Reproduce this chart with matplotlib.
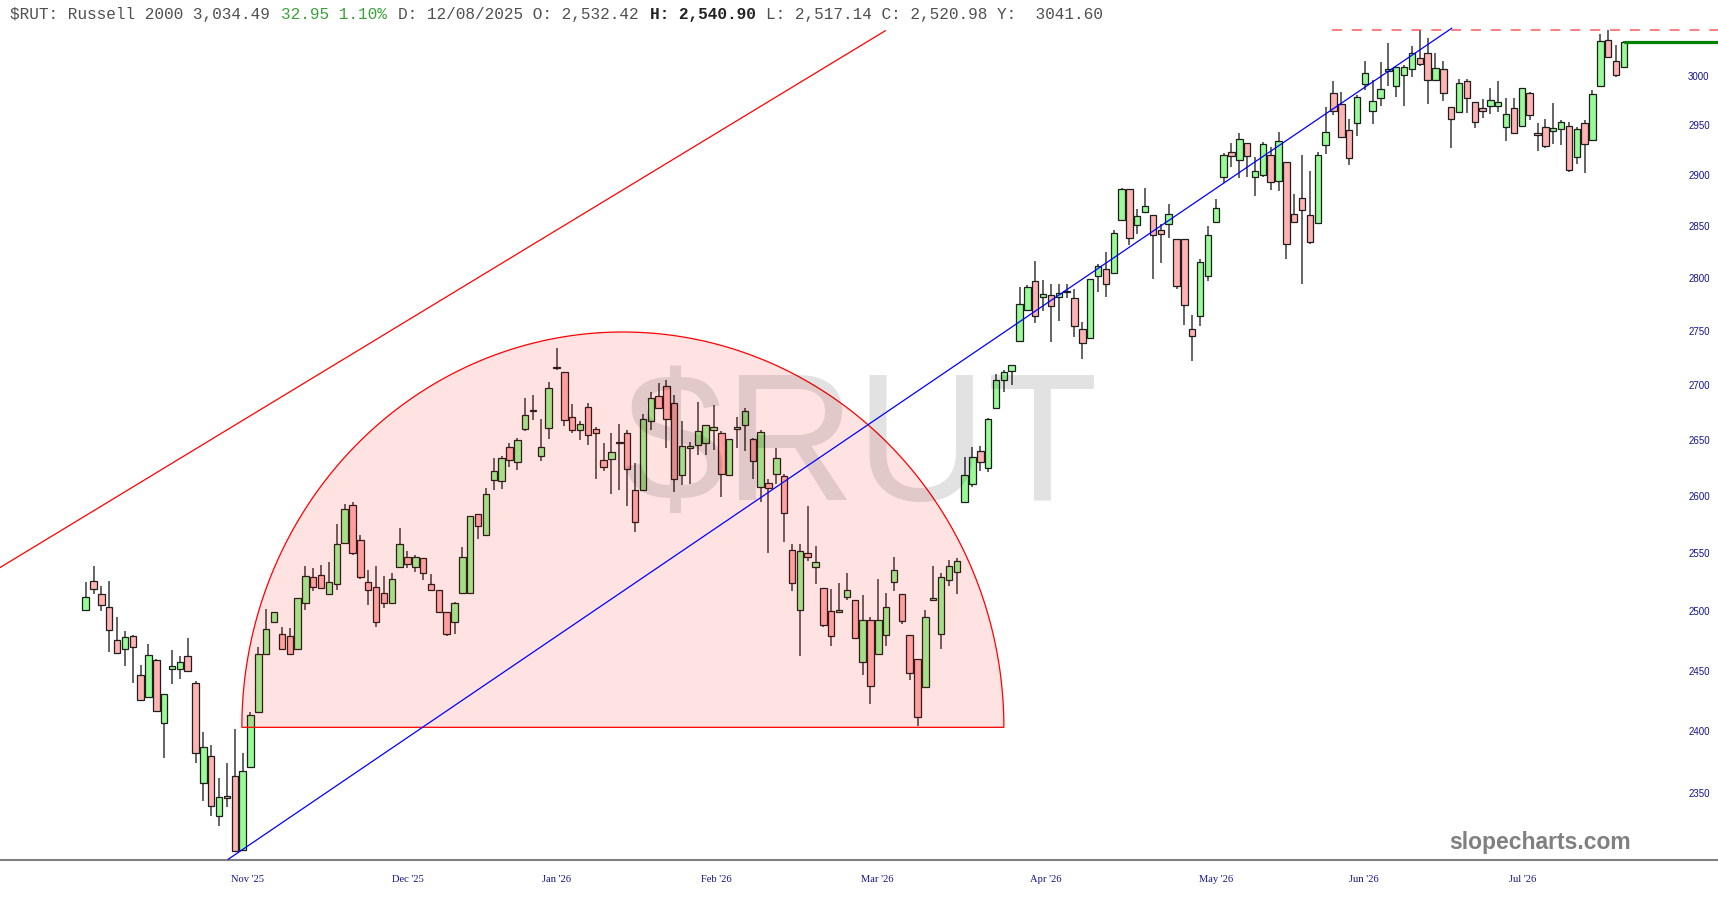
import numpy as np
import matplotlib
matplotlib.use("Agg")
import matplotlib.pyplot as plt
from matplotlib.patches import Polygon
from matplotlib.ticker import NullLocator, FixedLocator, FixedFormatter

# daily candles (index 0 = first candle on the left)
opens = [2501, 2526, 2515, 2504, 2476, 2468, 2479, 2446, 2428, 2459,
         2407, 2451, 2451, 2462, 2440, 2358, 2380, 2332, 2348, 2364,
         2305, 2371, 2416, 2464, 2491, 2481, 2479, 2468, 2507, 2529,
         2531, 2515, 2523, 2559, 2592, 2561, 2525, 2521, 2516, 2507,
         2538, 2547, 2538, 2546, 2523, 2518, 2499, 2491, 2516, 2516,
         2584, 2566, 2614, 2613, 2644, 2630, 2660, 2676, 2636, 2661,
         2717, 2712, 2671, 2659, 2680, 2660, 2632, 2633, 2648, 2656,
         2605, 2605, 2667, 2690, 2699, 2684, 2619, 2643, 2646, 2647,
         2659, 2656, 2619, 2660, 2664, 2651, 2608, 2612, 2620, 2618,
         2553, 2501, 2550, 2538, 2520, 2500, 2499, 2512, 2510, 2457,
         2493, 2464, 2480, 2525, 2515, 2480, 2460, 2436, 2510, 2481,
         2527, 2534, 2595, 2611, 2640, 2625, 2679, 2705, 2713, 2741,
         2770, 2797, 2782, 2784, 2782, 2787, 2781, 2752, 2744, 2802,
         2809, 2805, 2856, 2886, 2851, 2864, 2861, 2846, 2852, 2838,
         2838, 2752, 2764, 2802, 2854, 2898, 2923, 2915, 2932, 2898,
         2900, 2920, 2894, 2913, 2862, 2878, 2861, 2853, 2930, 2982,
         2971, 2945, 2952, 2991, 2964, 2977, 3005, 2989, 3001, 3007,
         3018, 3023, 2996, 3007, 2968, 2963, 2995, 2973, 2967, 2969,
         2969, 2948, 2967, 2949, 2982, 2942, 2948, 2944, 2946, 2949,
         2918, 2952, 2935, 2989, 3037, 3015, 3009]
highs = [2525, 2539, 2522, 2526, 2495, 2483, 2480, 2455, 2472, 2460,
         2431, 2467, 2462, 2477, 2441, 2399, 2389, 2362, 2374, 2402,
         2382, 2416, 2470, 2502, 2499, 2487, 2486, 2511, 2539, 2537,
         2540, 2542, 2575, 2593, 2595, 2566, 2535, 2539, 2530, 2533,
         2572, 2552, 2548, 2546, 2532, 2518, 2499, 2508, 2555, 2582,
         2584, 2607, 2634, 2636, 2647, 2652, 2688, 2691, 2669, 2703,
         2734, 2712, 2683, 2667, 2684, 2662, 2647, 2656, 2665, 2659,
         2629, 2674, 2694, 2702, 2705, 2691, 2667, 2648, 2685, 2664,
         2682, 2658, 2651, 2671, 2679, 2652, 2659, 2615, 2643, 2620,
         2558, 2558, 2591, 2556, 2520, 2519, 2524, 2533, 2510, 2514,
         2495, 2528, 2516, 2547, 2515, 2480, 2460, 2501, 2539, 2533,
         2544, 2546, 2635, 2644, 2645, 2670, 2710, 2714, 2719, 2792,
         2794, 2817, 2798, 2795, 2795, 2795, 2790, 2759, 2799, 2814,
         2825, 2846, 2887, 2886, 2867, 2887, 2861, 2852, 2872, 2838,
         2838, 2765, 2818, 2850, 2877, 2922, 2932, 2942, 2932, 2918,
         2933, 2928, 2943, 2913, 2882, 2920, 2904, 2923, 2968, 2995,
         2983, 2956, 2980, 3015, 2996, 3014, 3033, 3009, 3011, 3030,
         3047, 3039, 3023, 3015, 2968, 2997, 2997, 2973, 2976, 2987,
         2995, 2977, 2977, 2987, 2983, 2952, 2956, 2972, 2955, 2953,
         2948, 2955, 2985, 3043, 3047, 3031, 3036]
lows = [2501, 2515, 2500, 2466, 2464, 2454, 2440, 2426, 2428, 2416,
        2378, 2439, 2443, 2449, 2374, 2344, 2332, 2324, 2339, 2303,
        2305, 2371, 2416, 2464, 2491, 2468, 2464, 2468, 2501, 2517,
        2520, 2514, 2518, 2558, 2548, 2528, 2505, 2487, 2503, 2507,
        2538, 2537, 2534, 2527, 2518, 2499, 2479, 2481, 2516, 2516,
        2562, 2566, 2605, 2606, 2626, 2623, 2658, 2668, 2631, 2651,
        2714, 2663, 2656, 2650, 2646, 2615, 2622, 2602, 2605, 2591,
        2568, 2605, 2659, 2678, 2643, 2604, 2610, 2611, 2637, 2637,
        2641, 2599, 2618, 2643, 2640, 2615, 2595, 2550, 2611, 2560,
        2517, 2462, 2543, 2523, 2487, 2471, 2499, 2510, 2477, 2446,
        2422, 2464, 2471, 2517, 2489, 2442, 2404, 2436, 2509, 2468,
        2522, 2515, 2595, 2608, 2622, 2621, 2679, 2694, 2700, 2741,
        2770, 2758, 2769, 2740, 2760, 2781, 2745, 2724, 2744, 2787,
        2782, 2805, 2856, 2832, 2843, 2864, 2799, 2815, 2839, 2790,
        2756, 2722, 2755, 2797, 2854, 2892, 2908, 2897, 2898, 2880,
        2898, 2885, 2884, 2818, 2854, 2795, 2833, 2853, 2921, 2960,
        2938, 2910, 2939, 2985, 2951, 2969, 2989, 2978, 2969, 2999,
        3010, 2971, 2996, 2974, 2927, 2963, 2962, 2947, 2957, 2961,
        2963, 2934, 2942, 2949, 2955, 2924, 2927, 2931, 2930, 2903,
        2911, 2902, 2935, 2989, 3019, 2999, 3009]
closes = [2512, 2519, 2505, 2484, 2465, 2478, 2470, 2426, 2463, 2417,
          2431, 2454, 2457, 2450, 2382, 2387, 2340, 2347, 2346, 2304,
          2368, 2413, 2464, 2485, 2499, 2468, 2464, 2511, 2530, 2521,
          2520, 2525, 2558, 2589, 2550, 2529, 2518, 2491, 2507, 2528,
          2558, 2541, 2547, 2533, 2518, 2499, 2481, 2507, 2547, 2582,
          2574, 2602, 2622, 2634, 2632, 2650, 2673, 2677, 2644, 2697,
          2716, 2668, 2659, 2665, 2655, 2656, 2626, 2639, 2647, 2624,
          2577, 2669, 2688, 2679, 2669, 2615, 2645, 2645, 2658, 2664,
          2662, 2620, 2651, 2662, 2676, 2631, 2657, 2607, 2634, 2585,
          2524, 2552, 2547, 2542, 2488, 2479, 2501, 2518, 2477, 2493,
          2437, 2493, 2504, 2535, 2492, 2448, 2412, 2495, 2511, 2529,
          2539, 2543, 2619, 2635, 2630, 2669, 2705, 2712, 2719, 2776,
          2792, 2764, 2785, 2774, 2786, 2788, 2755, 2739, 2799, 2812,
          2795, 2844, 2886, 2839, 2860, 2870, 2842, 2843, 2862, 2793,
          2775, 2746, 2816, 2842, 2868, 2920, 2919, 2936, 2919, 2904,
          2931, 2893, 2934, 2833, 2854, 2866, 2835, 2920, 2943, 2964,
          2938, 2917, 2978, 3003, 2974, 2986, 3007, 3009, 3009, 3023,
          3012, 2996, 3008, 2982, 2956, 2992, 2977, 2953, 2964, 2975,
          2973, 2961, 2942, 2987, 2960, 2940, 2929, 2947, 2953, 2905,
          2946, 2931, 2981, 3036, 3019, 3001, 3034]

month_labels = ["Nov '25", "Dec '25", "Jan '26", "Feb '26", "Mar '26",
                "Apr '26", "May '26", "Jun '26", "Jul '26"]
month_pos = [20.6, 41.0, 60.0, 80.4, 100.9, 122.4, 144.0, 162.9, 183.1]
price_ticks = [2350, 2400, 2450, 2500, 2550, 2600, 2650, 2700,
               2750, 2800, 2850, 2900, 2950, 3000]

# header pieces: (text, colour, weight)
header_parts = [
    ("$RUT: Russell 2000 3,034.49", "#505050", "normal"),
    ("32.95 1.10%", "#3aa13a", "normal"),
    ("D: 12/08/2025 O: 2,532.42", "#505050", "normal"),
    ("H: 2,540.90", "#222222", "bold"),
    ("L: 2,517.14 C: 2,520.98 Y:  3041.60", "#505050", "normal"),
]

# drawings on the chart (candle index, price)
last_price = 3034.49
red_trend = [(-10.92, 2537.5), (101.9, 3046.2)]
blue_trend = [(18.17, 2297.7), (174.06, 3048.7)]
high_line = (158.8, 3046.5)
bowl_left, bowl_right, bowl_base, bowl_top = 19.9, 117.0, 2403.2, 2749.3

W, H = 1718, 900
fig = plt.figure(figsize=(W / 100, H / 100), dpi=100)
ax = fig.add_axes([0, 1 - 860 / H, 1, 860 / H])
ax.set_yscale("log")
ax.set_xlim(-10.92, 208.0)
ax.set_ylim(2297.1, 3078.2)

o = np.array(opens, float)
h = np.array(highs, float)
l = np.array(lows, float)
c = np.array(closes, float)
x = np.arange(len(o))
up = c >= o

ax.vlines(x, l, h, color="#3a3a3a", lw=1.1, zorder=2)
bottom = np.minimum(o, c)
height = np.maximum(np.abs(c - o), 0.8)
ax.bar(x, height, bottom=bottom, width=0.82,
       color=np.where(up, "#98fb98", "#ffb3b3"),
       edgecolor="#1e1e1e", linewidth=0.9, zorder=3)

# half-ellipse drawn in screen space, then mapped back to data
p_l = ax.transData.transform((bowl_left, bowl_base))
p_r = ax.transData.transform((bowl_right, bowl_base))
p_t = ax.transData.transform(((bowl_left + bowl_right) / 2, bowl_top))
cx, by = (p_l[0] + p_r[0]) / 2, p_l[1]
rx, ry = (p_r[0] - p_l[0]) / 2, p_t[1] - by
t = np.linspace(0, np.pi, 300)
pts = np.column_stack([cx + rx * np.cos(t), by + ry * np.sin(t)])
pts = ax.transData.inverted().transform(pts)
ax.add_patch(Polygon(pts, closed=True, facecolor=(1, 0, 0, 0.11),
                     edgecolor="#ff0000", linewidth=0.9, zorder=4))

ax.text(0.5012, 0.4186, "$RUT", transform=ax.transAxes, ha="center",
        va="baseline", fontsize=131, family="Liberation Sans",
        color="black", alpha=0.115, zorder=5)

ax.plot(*zip(*red_trend), color="#ff0000", lw=0.9, zorder=6)
ax.plot(*zip(*blue_trend), color="#0000ff", lw=0.9, zorder=6)
ax.plot([high_line[0], 208.0], [high_line[1]] * 2, color="#ff5a5a",
        lw=1.1, linestyle=(0, (6.5, 6.5)), zorder=6)
ax.plot([x[-1], 208.0], [last_price] * 2, color="#008000", lw=2.3,
        zorder=6, solid_capstyle="butt")

# axes styling
for s in ("top", "left", "right"):
    ax.spines[s].set_visible(False)
ax.spines["bottom"].set_color("#808080")
ax.spines["bottom"].set_linewidth(1.5)
ax.set_xticks(month_pos, month_labels)
ax.tick_params(axis="x", length=0, pad=11, labelsize=7.6,
               labelcolor="#14148c")
for lab in ax.get_xticklabels():
    lab.set_family("Liberation Serif")
ax.yaxis.tick_right()
ax.yaxis.set_major_locator(FixedLocator(price_ticks))
ax.yaxis.set_major_formatter(FixedFormatter([str(p) for p in price_ticks]))
ax.yaxis.set_minor_locator(NullLocator())
ax.tick_params(axis="y", length=0, pad=-21.5, labelsize=7.0,
               labelcolor="#14148c")
for lab in ax.get_yticklabels():
    lab.set_family("Liberation Sans")
    lab.set_horizontalalignment("left")

# header line in a monospace font, each piece placed on the character grid
cw = 9.69
x0 = 10.0
fs = cw / 0.6 * 72 / 100
hy = 1 - 14.5 / H
col = 0
for text, color, weight in header_parts:
    fig.text((x0 + col * cw) / W, hy, text, family="Liberation Mono",
             fontsize=fs, color=color, weight=weight, va="center", ha="left")
    col += len(text) + 1

fig.text(1631 / W, 1 - 842.6 / H, "slopecharts.com", ha="right", va="center",
         fontsize=16.5, weight="bold", color="#808080",
         family="Liberation Sans")

fig.savefig("out.png", dpi=100)
